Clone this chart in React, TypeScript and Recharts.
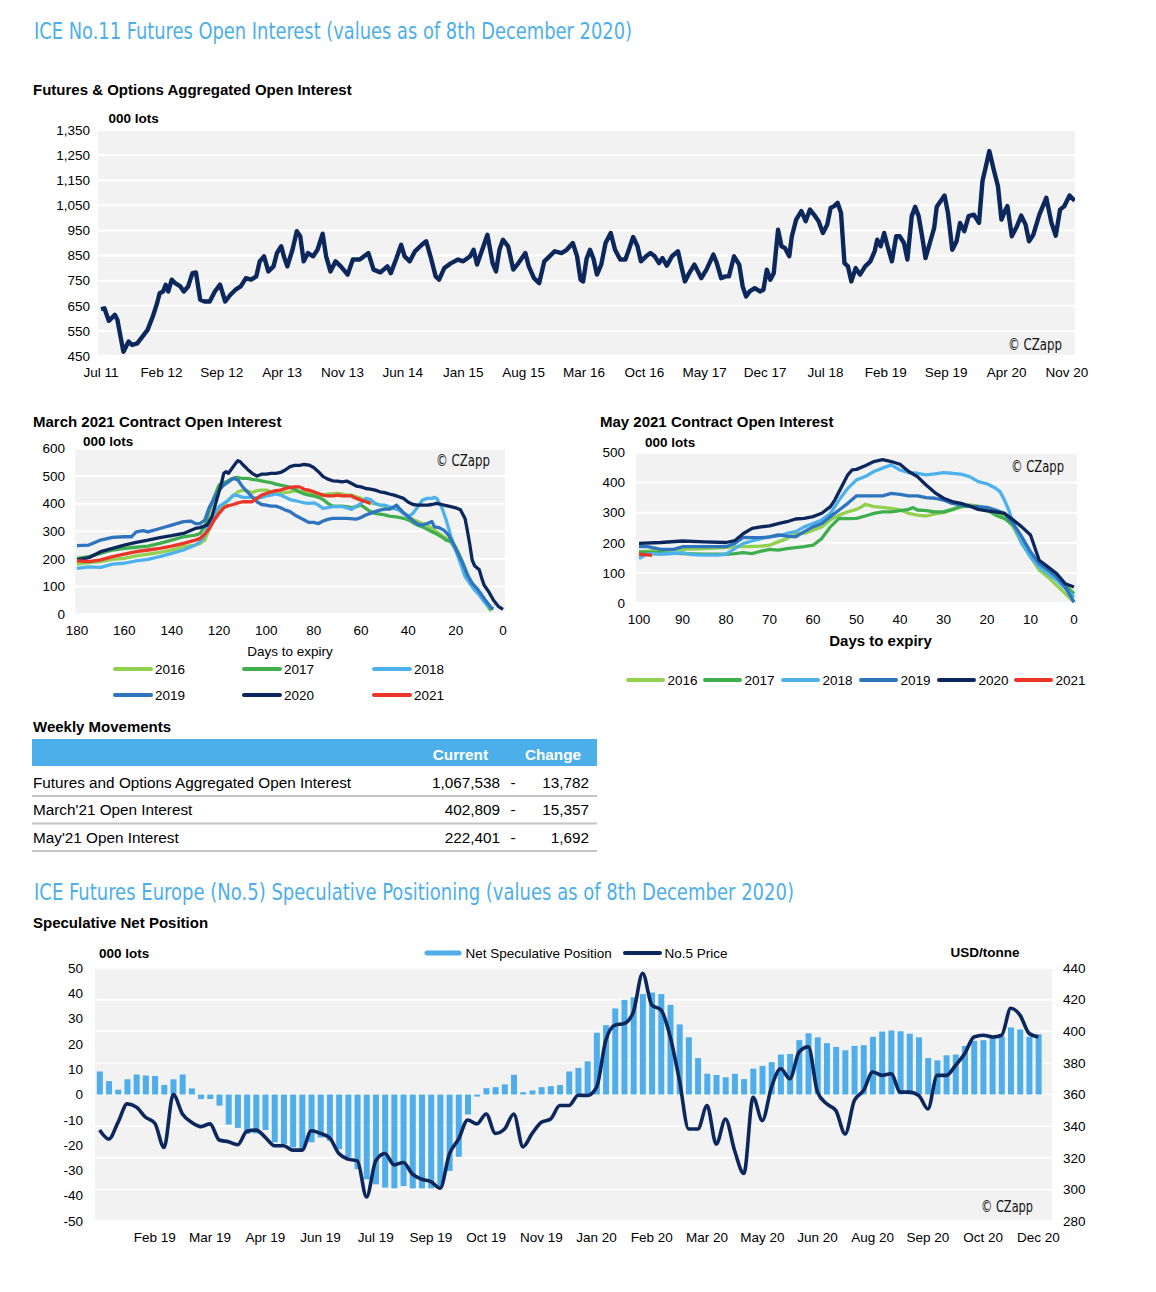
import React from "react";
import { Bar, CartesianGrid, ComposedChart, Line, LineChart, XAxis, YAxis } from "recharts";

// Arial-alike for everything, a narrow face for the headings / watermark
const FONT = "'Liberation Sans', Arial, Helvetica, sans-serif";
const NARROW = "'Liberation Sans Narrow', 'DejaVu Sans Condensed', 'Liberation Sans', sans-serif";

const C = {
  title: "#4DAFEA",
  bg: "#F2F2F2",
  navy: "#0C275C",
  bar: "#4FAEEA",
  rule: "#C4C4C4",
  y2016: "#92D050",
  y2017: "#3FAE4F",
  y2018: "#4DB2EC",
  y2019: "#2E74BE",
  y2020: "#0C275C",
  y2021: "#EA3527",
};

// ---- Futures & Options aggregated OI: [months since Jul 11, 000 lots]
const OI_POINTS: [number, number][] = [
  [0, 637], [0.4, 640], [0.9, 590], [1.4, 607], [1.6, 614], [1.9, 594], [2.3, 520], [2.6, 467],
  [3.2, 508], [3.6, 494], [4.2, 500], [4.8, 527], [5.4, 554], [6, 607], [6.5, 660], [6.8, 700],
  [7.2, 707], [7.5, 734], [7.8, 707], [8.2, 754], [8.6, 740], [9.2, 727], [9.6, 707], [10.1, 727],
  [10.6, 780], [11, 783], [11.5, 674], [12, 667], [12.6, 667], [13.2, 707], [13.8, 734], [14.4, 667],
  [15, 694], [15.6, 714], [16.2, 727], [16.8, 760], [17.4, 754], [18, 767], [18.4, 827], [18.9, 847],
  [19.4, 787], [20, 807], [20.4, 860], [20.9, 887], [21.2, 847], [21.6, 807], [22.2, 873], [22.7, 947],
  [23.1, 927], [23.5, 827], [24, 860], [24.6, 847], [25.1, 873], [25.7, 937], [26.1, 847], [26.6, 787],
  [27.2, 827], [27.8, 807], [28.6, 774], [29.2, 834], [30, 834], [31, 860], [31.6, 794], [32.4, 783],
  [33.2, 807], [33.6, 780], [34.2, 834], [34.8, 893], [35.2, 847], [35.8, 827], [36.4, 867], [37.2, 893],
  [37.7, 907], [38.2, 847], [38.8, 767], [39.2, 754], [39.8, 800], [40.6, 820], [41.4, 834], [42, 827],
  [42.8, 847], [43.2, 873], [43.6, 814], [44.2, 873], [44.8, 933], [45.4, 820], [45.8, 787], [46.2, 873],
  [46.6, 913], [47.2, 887], [47.8, 794], [48.4, 820], [49.2, 860], [49.6, 807], [50.2, 760], [50.8, 740],
  [51.4, 827], [52, 847], [52.6, 867], [53.4, 860], [54, 873], [54.7, 900], [55.2, 847], [55.6, 754],
  [55.9, 747], [56.3, 837], [56.7, 873], [57.1, 837], [57.5, 774], [58, 814], [58.5, 900], [59.1, 940],
  [59.6, 873], [60.2, 834], [60.8, 834], [61.2, 873], [61.7, 924], [62.2, 887], [62.6, 827], [63.2, 847],
  [63.7, 860], [64.2, 847], [64.7, 820], [65.1, 840], [65.6, 810], [66.2, 847], [66.9, 867], [67.2, 820],
  [67.7, 747], [68.2, 780], [68.8, 814], [69.6, 760], [70.2, 794], [71, 854], [71.4, 820], [71.9, 760],
  [72.4, 767], [72.8, 767], [73.4, 847], [74, 814], [74.4, 727], [74.8, 687], [75.2, 707], [75.8, 720],
  [76.4, 707], [76.8, 714], [77.2, 794], [77.6, 754], [78, 780], [78.5, 953], [78.9, 887], [79.3, 880],
  [79.8, 847], [80.1, 927], [80.6, 993], [81.2, 1027], [81.7, 987], [82.2, 1033], [82.8, 1007], [83.2, 987],
  [83.7, 940], [84.2, 973], [84.6, 1040], [85, 1047], [85.4, 1060], [85.8, 1020], [86.2, 820], [86.6, 807],
  [87, 747], [87.5, 800], [88, 774], [88.6, 807], [89.2, 827], [89.7, 867], [90, 913], [90.4, 887],
  [90.8, 940], [91.2, 887], [91.7, 827], [92.2, 927], [92.6, 927], [93.1, 900], [93.5, 834], [94, 1007],
  [94.4, 1044], [94.8, 1007], [95.2, 927], [95.6, 840], [96.1, 900], [96.6, 960], [96.9, 1044], [97.3, 1064],
  [97.8, 1089], [98.2, 1020], [98.7, 873], [99.2, 907], [99.6, 980], [100.1, 947], [100.6, 1007], [101.2, 1013],
  [101.8, 980], [102.2, 1146], [102.6, 1206], [103, 1266], [103.5, 1193], [104, 1126], [104.4, 993], [104.8, 1027],
  [105.1, 1047], [105.6, 927], [106.2, 967], [106.7, 1009], [107.2, 973], [107.6, 907], [108.1, 933], [108.8, 1013],
  [109.6, 1080], [110.2, 980], [110.7, 929], [111.2, 1033], [111.7, 1047], [112.3, 1089], [112.9, 1068],
];
const OI_TICK_MONTHS = [0, 7, 14, 21, 28, 35, 42, 49, 56, 63, 70, 77, 84, 91, 98, 105, 112];
const OI_TICK_LABELS = [
  "Jul 11", "Feb 12", "Sep 12", "Apr 13", "Nov 13", "Jun 14", "Jan 15", "Aug 15", "Mar 16",
  "Oct 16", "May 17", "Dec 17", "Jul 18", "Feb 19", "Sep 19", "Apr 20", "Nov 20",
];
const OI_Y_TICKS = [450, 550, 650, 750, 850, 950, 1050, 1150, 1250, 1350];

// ---- March contract OI: [days to expiry, 000 lots]
const MAR_2016: [number, number][] = [
  [180, 181], [175, 186], [170, 190], [165, 198], [160, 202], [155, 211], [150, 217], [145, 223], [140, 232],
  [135, 244], [130, 250], [128, 256], [126, 268], [124, 310], [122, 353], [120, 377], [118, 395], [116, 413],
  [114, 428], [112, 443], [110, 449], [108, 446], [106, 440], [104, 447], [102, 449], [100, 449], [98, 443],
  [96, 443], [94, 437], [92, 440], [90, 443], [88, 447], [86, 443], [84, 443], [82, 440], [80, 437], [78, 431],
  [76, 431], [74, 435], [72, 435], [70, 437], [68, 435], [66, 431], [64, 431], [62, 425], [60, 419], [58, 411],
  [56, 403], [54, 399], [52, 395], [50, 391], [48, 386], [46, 383], [44, 377], [42, 365], [40, 353], [38, 343],
  [36, 335], [34, 328], [32, 322], [30, 310], [28, 298], [26, 286], [24, 274], [22, 266], [20, 244], [18, 208],
  [16, 166], [14, 123], [12, 99], [10, 75], [8, 48], [6, 21], [5, 11],
];
const MAR_2017: [number, number][] = [
  [180, 202], [175, 208], [170, 220], [165, 232], [160, 238], [155, 242], [150, 246], [145, 256], [140, 268],
  [135, 280], [130, 286], [128, 292], [126, 316], [124, 377], [122, 425], [120, 467], [119, 473], [117, 479],
  [115, 489], [113, 495], [110, 492], [108, 492], [106, 488], [104, 486], [102, 483], [100, 479], [98, 476],
  [96, 471], [94, 467], [92, 464], [90, 459], [88, 452], [86, 443], [84, 435], [82, 431], [80, 428], [78, 423],
  [76, 415], [74, 401], [72, 391], [70, 391], [68, 391], [66, 389], [64, 386], [62, 389], [60, 395], [58, 383],
  [56, 371], [54, 365], [52, 362], [50, 359], [48, 355], [46, 353], [44, 350], [42, 347], [40, 341], [38, 331],
  [36, 322], [34, 316], [32, 307], [30, 298], [28, 290], [26, 280], [24, 268], [22, 262], [20, 232], [18, 190],
  [16, 147], [14, 111], [12, 93], [10, 75], [8, 51], [6, 27], [5, 14],
];
const MAR_2018: [number, number][] = [
  [180, 165], [175, 171], [170, 169], [165, 181], [160, 184], [155, 193], [150, 198], [145, 208], [140, 220],
  [135, 232], [130, 250], [128, 262], [126, 286], [124, 328], [122, 365], [120, 389], [118, 401], [116, 413],
  [114, 431], [112, 429], [110, 423], [108, 423], [106, 423], [104, 419], [102, 423], [100, 428], [98, 431],
  [96, 435], [94, 431], [92, 423], [90, 415], [88, 411], [86, 407], [84, 403], [82, 401], [80, 403], [78, 395],
  [76, 383], [74, 386], [72, 389], [70, 389], [68, 389], [66, 385], [64, 379], [62, 391], [60, 401], [58, 419],
  [56, 415], [54, 401], [52, 395], [50, 395], [48, 389], [46, 383], [44, 377], [42, 365], [40, 353], [38, 365],
  [36, 389], [34, 413], [32, 419], [30, 419], [29, 423], [28, 419], [26, 389], [24, 341], [22, 280], [20, 232],
  [18, 184], [16, 135], [14, 111], [12, 87], [10, 69], [8, 45], [6, 27], [5, 21],
];
const MAR_2019: [number, number][] = [
  [180, 248], [175, 250], [170, 268], [165, 278], [160, 280], [157, 280], [155, 298], [152, 302], [150, 298],
  [145, 310], [140, 322], [135, 335], [132, 337], [130, 328], [128, 328], [126, 341], [124, 389], [122, 419],
  [120, 449], [118, 467], [116, 479], [114, 492], [112, 486], [110, 461], [108, 443], [106, 425], [104, 407],
  [102, 397], [100, 395], [98, 391], [96, 391], [94, 385], [92, 377], [90, 371], [88, 359], [86, 350], [84, 341],
  [82, 332], [80, 332], [78, 328], [76, 337], [74, 343], [72, 347], [70, 347], [66, 347], [62, 344], [60, 350],
  [58, 359], [56, 365], [54, 371], [52, 377], [50, 380], [48, 380], [46, 389], [45, 395], [44, 385], [42, 367],
  [40, 353], [38, 338], [36, 326], [34, 322], [32, 328], [30, 335], [29, 316], [27, 313], [25, 304], [23, 286],
  [21, 256], [19, 220], [17, 184], [15, 141], [13, 111], [11, 93], [9, 69], [7, 45], [5, 23], [4, 18],
];
const MAR_2020: [number, number][] = [
  [180, 196], [175, 204], [170, 226], [165, 238], [160, 250], [155, 260], [150, 268], [145, 277], [140, 284],
  [135, 292], [130, 310], [128, 313], [125, 322], [123, 353], [121, 413], [119, 473], [118, 510], [117, 516],
  [116, 510], [115, 522], [113, 546], [112, 556], [111, 552], [110, 542], [108, 525], [106, 510], [104, 500],
  [102, 507], [100, 507], [98, 510], [96, 510], [94, 513], [92, 522], [90, 534], [88, 539], [86, 539], [84, 542],
  [82, 540], [80, 531], [78, 516], [76, 498], [74, 489], [72, 483], [70, 482], [68, 479], [66, 482], [64, 473],
  [62, 464], [60, 461], [58, 455], [56, 453], [54, 449], [52, 443], [50, 440], [48, 435], [46, 431], [44, 425],
  [42, 419], [40, 405], [38, 397], [36, 395], [34, 395], [32, 395], [30, 397], [28, 401], [26, 397], [24, 393],
  [22, 389], [20, 385], [18, 378], [16, 345], [15, 300], [14, 250], [13, 195], [12, 175], [10, 160], [9, 130],
  [8, 105], [6, 80], [4, 50], [2, 28], [0, 17],
];
const MAR_2021: [number, number][] = [
  [180, 193], [175, 190], [170, 196], [165, 208], [160, 217], [155, 226], [150, 232], [145, 238], [140, 246],
  [135, 256], [130, 268], [128, 274], [126, 290], [124, 310], [122, 341], [120, 365], [118, 385], [116, 393],
  [114, 397], [112, 403], [110, 407], [108, 407], [106, 407], [104, 419], [102, 431], [100, 437], [98, 443],
  [96, 447], [94, 449], [92, 455], [90, 459], [88, 461], [86, 461], [84, 452], [82, 449], [80, 443], [78, 437],
  [76, 431], [74, 428], [72, 428], [70, 431], [68, 428], [66, 428], [64, 428], [62, 419], [60, 413], [58, 407],
  [56, 401],
];

// ---- May contract OI: [days to expiry, 000 lots]
const MAY_2016: [number, number][] = [
  [100, 170], [95, 176], [90, 178], [85, 181], [80, 184], [78, 187], [75, 187], [72, 189], [70, 192], [68, 203],
  [66, 214], [64, 231], [62, 231], [60, 242], [58, 253], [56, 276], [54, 292], [52, 303], [50, 311], [49, 318],
  [48, 328], [46, 320], [44, 318], [42, 314], [40, 309], [38, 298], [36, 292], [34, 289], [32, 296], [30, 300],
  [28, 309], [26, 320], [24, 326], [22, 322], [20, 314], [18, 298], [16, 287], [14, 253], [12, 198], [10, 153],
  [8, 109], [6, 87], [4, 59], [2, 31], [0, 3],
];
const MAY_2017: [number, number][] = [
  [100, 170], [95, 167], [90, 164], [85, 162], [80, 162], [78, 164], [76, 167], [74, 164], [72, 172], [70, 178],
  [68, 176], [66, 181], [64, 184], [62, 187], [60, 192], [58, 214], [56, 253], [54, 281], [52, 280], [50, 281],
  [48, 289], [46, 298], [44, 303], [42, 303], [40, 307], [38, 311], [37, 317], [36, 309], [34, 307], [32, 303],
  [30, 303], [28, 311], [26, 320], [24, 322], [22, 314], [20, 309], [18, 292], [16, 281], [14, 259], [12, 209],
  [10, 164], [8, 131], [6, 103], [4, 81], [2, 59], [0, 31],
];
const MAY_2018: [number, number][] = [
  [100, 148], [98, 164], [95, 162], [90, 167], [88, 161], [85, 159], [82, 159], [80, 162], [78, 181], [76, 198],
  [74, 206], [72, 214], [70, 220], [68, 223], [66, 231], [64, 237], [62, 253], [60, 264], [58, 276], [56, 298],
  [54, 342], [52, 381], [50, 409], [48, 420], [46, 437], [44, 448], [42, 459], [40, 442], [38, 433], [36, 431],
  [34, 426], [32, 429], [30, 433], [28, 431], [26, 428], [24, 420], [22, 403], [20, 396], [18, 381], [17, 370],
  [16, 342], [15, 309], [14, 264], [12, 198], [10, 153], [8, 120], [6, 98], [4, 76], [2, 48], [0, 20],
];
const MAY_2019: [number, number][] = [
  [100, 187], [98, 187], [95, 178], [92, 178], [90, 187], [85, 187], [80, 187], [78, 198], [76, 218], [74, 217],
  [72, 217], [70, 220], [68, 226], [66, 222], [64, 220], [62, 237], [60, 253], [58, 264], [56, 287], [54, 309],
  [52, 331], [50, 356], [48, 356], [46, 356], [44, 356], [42, 364], [40, 361], [38, 356], [36, 356], [34, 350],
  [32, 348], [30, 342], [28, 331], [26, 326], [24, 322], [22, 320], [20, 318], [18, 309], [16, 298], [14, 264],
  [12, 220], [10, 170], [8, 131], [6, 111], [4, 87], [2, 53], [0, 3],
];
const MAY_2020: [number, number][] = [
  [100, 198], [95, 201], [90, 206], [85, 203], [80, 201], [78, 207], [76, 231], [74, 248], [72, 253], [70, 256],
  [68, 264], [66, 270], [64, 279], [62, 281], [60, 287], [58, 298], [56, 320], [55, 342], [54, 370], [52, 426],
  [51, 442], [50, 444], [48, 456], [46, 470], [44, 476], [42, 470], [40, 461], [38, 437], [36, 420], [34, 392],
  [32, 367], [30, 348], [28, 337], [26, 331], [24, 322], [22, 311], [20, 306], [18, 303], [16, 298], [14, 276],
  [12, 253], [10, 226], [8, 142], [6, 120], [4, 98], [2, 64], [0, 53],
];
const MAY_2021: [number, number][] = [[100, 162], [99, 161], [98, 160], [97, 158]];

const YEARS = ["2016", "2017", "2018", "2019", "2020", "2021"];
const YEAR_COLORS = [C.y2016, C.y2017, C.y2018, C.y2019, C.y2020, C.y2021];
const MAR_SERIES = [MAR_2016, MAR_2017, MAR_2018, MAR_2019, MAR_2020, MAR_2021];
const MAY_SERIES = [MAY_2016, MAY_2017, MAY_2018, MAY_2019, MAY_2020, MAY_2021];
const MAR_X_TICKS = [0, 20, 40, 60, 80, 100, 120, 140, 160, 180];
const MAR_Y_TICKS = [0, 100, 200, 300, 400, 500, 600];
const MAY_X_TICKS = [0, 10, 20, 30, 40, 50, 60, 70, 80, 90, 100];
const MAY_Y_TICKS = [0, 100, 200, 300, 400, 500];

// ---- Weekly movements table
const WM_LABELS = ["Futures and Options Aggregated Open Interest", "March'21 Open Interest", "May'21 Open Interest"];
const WM_CURRENT = [1067538, 402809, 222401];
const WM_CHANGE = [13782, 15357, 1692];

// ---- No.5 speculative positioning, weekly from early Jan 19
const SPEC_NET = [
  9.1, 5.3, 1.9, 6.0, 7.9, 7.5, 7.3, 3.8, 6.0, 7.9, 2.4, -1.8, -1.8, -4.4, -11.9, -13.2, -15.6, -15.4, -14.0,
  -18.9, -19.6, -20.9, -21.6, -18.9, -17.0, -18.3, -21.6, -24.9, -29.5, -33.5, -35.5, -36.8, -37.1, -36.2,
  -37.1, -37.1, -37.1, -36.2, -30.2, -24.6, -7.9, -0.8, 2.5, 2.9, 4.0, 7.8, 0.9, 1.6, 2.9, 3.3, 3.7, 9.1,
  10.5, 13.1, 24.4, 27.4, 34.0, 37.4, 38.4, 39.7, 40.3, 39.7, 35.4, 27.7, 22.6, 14.4, 8.2, 7.7, 6.8, 8.2,
  6.1, 10.2, 11.3, 12.8, 15.8, 16.0, 21.5, 24.2, 22.6, 20.3, 18.8, 17.5, 19.2, 19.5, 22.8, 24.9, 25.3, 25.0,
  24.0, 22.6, 14.4, 13.5, 15.5, 15.8, 19.2, 21.2, 21.5, 22.3, 22.9, 26.5, 25.7, 22.8, 23.8,
];
const SPEC_PRICE = [
  337.5, 331.8, 342.4, 354.1, 352, 345.6, 341.8, 326.5, 360, 347.7, 342.4, 339.7, 341.4, 331.2, 330.1, 328.2,
  336.7, 337.5, 332.9, 327.6, 327.6, 324.8, 324.8, 337.1, 335.4, 332.5, 322.7, 319.1, 318, 295.2, 318, 322.7,
  315.5, 317, 309.6, 306.4, 304.9, 300.7, 322.3, 331.8, 343.9, 341.4, 347.7, 335.4, 338.2, 347.7, 326.9,
  335.4, 342.4, 344.5, 353, 353, 359.5, 359.4, 364.7, 394.3, 403.9, 404.9, 412.3, 436.7, 416.6, 413.4, 396.4,
  368.9, 338.2, 338.2, 353, 328.6, 344.5, 324.4, 310, 358.3, 343.5, 364.7, 376.3, 370, 386.9, 390.1, 361.5,
  354.1, 349.8, 335, 356.2, 362.5, 374.2, 372.1, 373.1, 361.5, 361.5, 359.4, 350.9, 372.1, 372.1, 378.4,
  385.9, 396.4, 397.5, 396.4, 397.5, 414.5, 410.2, 398.6, 396.4,
];
const SPEC_TICK_LABELS = [
  "Feb 19", "Mar 19", "Apr 19", "Jun 19", "Jul 19", "Sep 19", "Oct 19", "Nov 19", "Jan 20",
  "Feb 20", "Mar 20", "May 20", "Jun 20", "Aug 20", "Sep 20", "Oct 20", "Dec 20",
];
const SPEC_LEFT_TICKS = [-50, -40, -30, -20, -10, 0, 10, 20, 30, 40, 50];
const SPEC_RIGHT_TICKS = [280, 300, 320, 340, 360, 380, 400, 420, 440];

const tick = { fontSize: 13.5, fill: "#000", fontFamily: FONT };
const fmt = (v: number) => v.toLocaleString("en-US");

function OpenInterestChart() {
  const data = OI_POINTS.map(([m, v]) => ({ m, v }));
  return (
    <div style={{ position: "absolute", left: 0, top: 110 }}>
      <LineChart width={1156} height={276} data={data} margin={{ top: 20, right: 81, bottom: 0, left: 38 }}>
        <CartesianGrid fill={C.bg} stroke="#fff" strokeWidth={2} vertical={false} />
        <XAxis
          dataKey="m"
          type="number"
          domain={[-0.35, 112.93]}
          allowDataOverflow
          ticks={OI_TICK_MONTHS}
          interval={0}
          tickFormatter={(v: number) => OI_TICK_LABELS[OI_TICK_MONTHS.indexOf(v)] ?? ""}
          axisLine={false}
          tickLine={false}
          tickMargin={5}
          tick={tick}
          height={30}
        />
        <YAxis
          domain={[450, 1350]}
          ticks={OI_Y_TICKS}
          interval={0}
          tickFormatter={fmt}
          axisLine={false}
          tickLine={false}
          tick={tick}
          width={60}
        />
        <Line dataKey="v" type="linear" stroke={C.navy} strokeWidth={4.4} strokeLinejoin="round" dot={false} isAnimationActive={false} />
      </LineChart>
    </div>
  );
}

function ExpiryChart({
  series,
  left,
  top,
  width,
  height,
  margin,
  xMax,
  xTicks,
  yTicks,
  pad,
  tickMargin,
}: {
  series: [number, number][][];
  left: number;
  top: number;
  width: number;
  height: number;
  margin: { top: number; right: number; bottom: number; left: number };
  xMax: number;
  xTicks: number[];
  yTicks: number[];
  pad: number;
  tickMargin: number;
}) {
  return (
    <div style={{ position: "absolute", left, top }}>
      <LineChart width={width} height={height} margin={margin}>
        <CartesianGrid fill={C.bg} stroke="#fff" strokeWidth={2} vertical={false} />
        <XAxis
          dataKey="d"
          type="number"
          reversed
          domain={[0, xMax]}
          ticks={xTicks}
          interval={0}
          padding={{ left: pad, right: pad }}
          axisLine={false}
          tickLine={false}
          tickMargin={5}
          tick={tick}
          height={30}
          allowDuplicatedCategory={false}
        />
        <YAxis
          domain={[0, yTicks[yTicks.length - 1]]}
          ticks={yTicks}
          interval={0}
          axisLine={false}
          tickLine={false}
          tickMargin={tickMargin}
          tick={tick}
          width={40}
        />
        {series.map((pts, k) => (
          <Line
            key={YEARS[k]}
            data={pts.map(([d, v]) => ({ d, v }))}
            dataKey="v"
            type="linear"
            stroke={YEAR_COLORS[k]}
            strokeWidth={3.3}
            strokeLinejoin="round"
            dot={false}
            isAnimationActive={false}
          />
        ))}
      </LineChart>
    </div>
  );
}

function SpeculativeChart() {
  const data = SPEC_NET.map((net, i) => ({ i, net, price: SPEC_PRICE[i] }));
  return (
    <div style={{ position: "absolute", left: 0, top: 940 }}>
      <ComposedChart width={1156} height={311} data={data} margin={{ top: 28, right: 54, bottom: 0, left: 45 }} barCategoryGap="20%">
        <CartesianGrid yAxisId="right" fill={C.bg} stroke="#fff" strokeWidth={1.5} vertical={false} />
        <XAxis
          dataKey="i"
          type="category"
          interval={0}
          padding={{ left: 0, right: 9 }}
          tickFormatter={(i: number) => (i > 0 && i % 6 === 0 ? SPEC_TICK_LABELS[i / 6 - 1] ?? "" : "")}
          axisLine={false}
          tickLine={false}
          tickMargin={5}
          tick={tick}
          height={30}
        />
        <YAxis
          yAxisId="left"
          domain={[-50, 50]}
          ticks={SPEC_LEFT_TICKS}
          interval={0}
          axisLine={false}
          tickLine={false}
          tickMargin={6}
          tick={tick}
          width={50}
        />
        <YAxis
          yAxisId="right"
          orientation="right"
          domain={[280, 440]}
          ticks={SPEC_RIGHT_TICKS}
          interval={0}
          axisLine={false}
          tickLine={false}
          tickMargin={5}
          tick={{ ...tick, textAnchor: "start" }}
          width={50}
        />
        <Bar yAxisId="left" dataKey="net" fill={C.bar} isAnimationActive={false} />
        <Line yAxisId="right" dataKey="price" type="monotone" stroke={C.navy} strokeWidth={3.6} dot={false} isAnimationActive={false} />
      </ComposedChart>
    </div>
  );
}

function Swatch({ x1, x2, y, color, w = 4 }: { x1: number; x2: number; y: number; color: string; w?: number }) {
  return <line x1={x1 + 2} x2={x2 - 2} y1={y} y2={y} stroke={color} strokeWidth={w} strokeLinecap="round" />;
}

function Watermark({ x, y, len }: { x: number; y: number; len: number }) {
  return (
    <text x={x} y={y} fontFamily={NARROW} fontSize={16.5} fill="#111" dominantBaseline="central" textLength={len} lengthAdjust="spacingAndGlyphs">
      © CZapp
    </text>
  );
}

function Overlay() {
  const marLegendX = [113, 242, 372];
  const mayLegendX = [626, 703, 781, 859, 937, 1014];
  const rowsY = [782, 809.5, 837];
  return (
    <svg width={1156} height={1292} style={{ position: "absolute", left: 0, top: 0, pointerEvents: "none" }} fontFamily={FONT}>
      {/* headings */}
      <text x={34} y={38.7} fontFamily={NARROW} fontSize={23.5} fill={C.title} textLength={598} lengthAdjust="spacingAndGlyphs">
        ICE No.11 Futures Open Interest (values as of 8th December 2020)
      </text>
      <text x={34} y={900} fontFamily={NARROW} fontSize={23.5} fill={C.title} textLength={760} lengthAdjust="spacingAndGlyphs">
        ICE Futures Europe (No.5) Speculative Positioning (values as of 8th December 2020)
      </text>

      {/* top chart labels */}
      <text x={33} y={89} fontSize={15} fontWeight="bold" dominantBaseline="central">Futures &amp; Options Aggregated Open Interest</text>
      <text x={108.5} y={118} fontSize={13.5} fontWeight="bold" dominantBaseline="central">000 lots</text>
      <Watermark x={1008} y={344} len={54} />

      {/* March chart labels + legend */}
      <text x={33} y={421.5} fontSize={15} fontWeight="bold" dominantBaseline="central">March 2021 Contract Open Interest</text>
      <text x={83} y={441.5} fontSize={13.5} fontWeight="bold" dominantBaseline="central">000 lots</text>
      <Watermark x={436} y={460} len={54} />
      <text x={290} y={651.5} fontSize={13.5} textAnchor="middle" dominantBaseline="central">Days to expiry</text>
      {YEARS.map((yr, k) => {
        const x = marLegendX[k % 3];
        const y = k < 3 ? 669 : 695;
        return (
          <g key={"m" + yr}>
            <Swatch x1={x} x2={x + 40} y={y} color={YEAR_COLORS[k]} />
            <text x={x + 42} y={y} fontSize={13.5} dominantBaseline="central">{yr}</text>
          </g>
        );
      })}

      {/* May chart labels + legend */}
      <text x={600} y={421.5} fontSize={15} fontWeight="bold" dominantBaseline="central">May 2021 Contract Open Interest</text>
      <text x={645} y={442} fontSize={13.5} fontWeight="bold" dominantBaseline="central">000 lots</text>
      <Watermark x={1011} y={466} len={53} />
      <text x={880.5} y={640.5} fontSize={15} fontWeight="bold" textAnchor="middle" dominantBaseline="central">Days to expiry</text>
      {YEARS.map((yr, k) => {
        const x = mayLegendX[k];
        return (
          <g key={"y" + yr}>
            <Swatch x1={x} x2={x + 39} y={680} color={YEAR_COLORS[k]} />
            <text x={x + 41.5} y={680} fontSize={13.5} dominantBaseline="central">{yr}</text>
          </g>
        );
      })}

      {/* weekly movements table */}
      <text x={33} y={726.5} fontSize={15} fontWeight="bold" dominantBaseline="central">Weekly Movements</text>
      <rect x={32} y={739} width={565} height={27} fill={C.title} />
      <text x={488} y={754} fontSize={15.3} fontWeight="bold" fill="#fff" textAnchor="end" dominantBaseline="central">Current</text>
      <text x={581} y={754} fontSize={15.3} fontWeight="bold" fill="#fff" textAnchor="end" dominantBaseline="central">Change</text>
      {WM_LABELS.map((label, r) => (
        <g key={label}>
          <text x={33} y={rowsY[r]} fontSize={15.3} dominantBaseline="central">{label}</text>
          <text x={500} y={rowsY[r]} fontSize={15.3} textAnchor="end" dominantBaseline="central">{fmt(WM_CURRENT[r])}</text>
          <text x={513} y={rowsY[r]} fontSize={15.3} textAnchor="middle" dominantBaseline="central">-</text>
          <text x={589} y={rowsY[r]} fontSize={15.3} textAnchor="end" dominantBaseline="central">{fmt(WM_CHANGE[r])}</text>
          <line x1={32} x2={597} y1={rowsY[r] + 14} y2={rowsY[r] + 14} stroke={C.rule} strokeWidth={2} />
        </g>
      ))}

      {/* speculative chart labels + legend */}
      <text x={33} y={922} fontSize={15} fontWeight="bold" dominantBaseline="central">Speculative Net Position</text>
      <text x={99} y={953} fontSize={13.5} fontWeight="bold" dominantBaseline="central">000 lots</text>
      <text x={950.5} y={952.5} fontSize={13.5} fontWeight="bold" dominantBaseline="central">USD/tonne</text>
      <Swatch x1={425} x2={461} y={953} color={C.bar} w={5} />
      <text x={465.5} y={953} fontSize={13.5} dominantBaseline="central">Net Speculative Position</text>
      <Swatch x1={623} x2={662} y={953} color={C.navy} />
      <text x={664.5} y={953} fontSize={13.5} dominantBaseline="central">No.5 Price</text>
      <Watermark x={981} y={1206.5} len={52} />
    </svg>
  );
}

export default function App() {
  return (
    <div style={{ position: "absolute", left: 0, top: 0, width: 1156, height: 1292, background: "#fff", fontFamily: FONT }}>
      <OpenInterestChart />
      <ExpiryChart
        series={MAR_SERIES}
        left={0}
        top={410}
        width={520}
        height={234}
        margin={{ top: 38.5, right: 15, bottom: 0, left: 35 }}
        xMax={180}
        xTicks={MAR_X_TICKS}
        yTicks={MAR_Y_TICKS}
        pad={2}
        tickMargin={4}
      />
      <ExpiryChart
        series={MAY_SERIES}
        left={560}
        top={410}
        width={537}
        height={223}
        margin={{ top: 42.5, right: 20, bottom: 0, left: 36 }}
        xMax={100}
        xTicks={MAY_X_TICKS}
        yTicks={MAY_Y_TICKS}
        pad={3}
        tickMargin={5}
      />
      <SpeculativeChart />
      <Overlay />
    </div>
  );
}
